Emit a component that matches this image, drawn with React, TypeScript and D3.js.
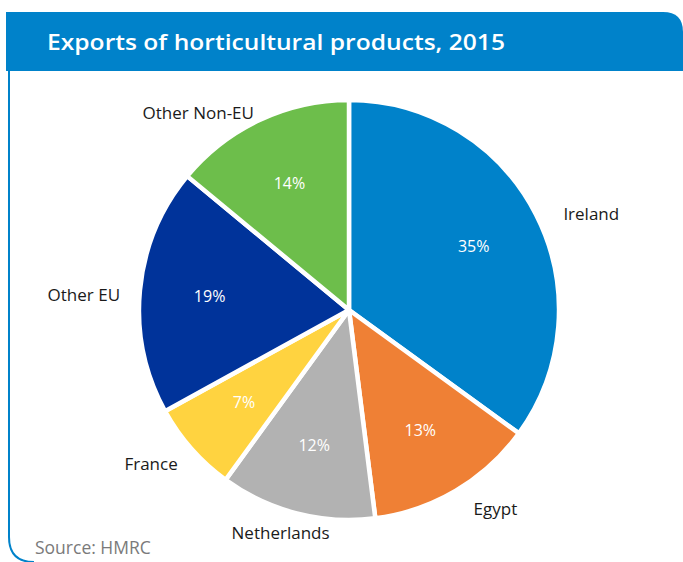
import React from "react";
import * as d3 from "d3";

const categories = ["Ireland", "Egypt", "Netherlands", "France", "Other EU", "Other Non-EU"];
const shares = [35, 13, 12, 7, 19, 14];
const colors = ["#0082CA", "#EF8035", "#B2B2B2", "#FFD340", "#00339A", "#6DBE4B"];
const title = "Exports of horticultural products, 2015";
const source = "Source: HMRC";

const W = 683;
const H = 562;

export default function App() {
  const cx = 349;
  const cy = 310;
  const r = 210;
  const pie = d3.pie<number>().sort(null).value((d) => d)(shares);
  const arc = d3.arc<d3.PieArcDatum<number>>().innerRadius(0).outerRadius(r);
  const pctArc = d3.arc<d3.PieArcDatum<number>>().innerRadius(140).outerRadius(140);
  const font = "'Open Sans', 'Noto Sans', sans-serif";

  return (
    <svg width={W} height={H} style={{ position: "absolute", left: 0, top: 0 }}>
      <rect x={0} y={0} width={W} height={H} fill="#fff" />
      <path d={`M9,70 L9,537 Q9,562 34,562`} fill="none" stroke="#0082CA" strokeWidth={2} />
      <path d={`M6,12 L663,12 Q683,12 683,32 L683,71 L6,71 Z`} fill="#0082CA" />
      <text
        x={47}
        y={50}
        fill="#fff"
        fontFamily={font}
        fontWeight={600}
        fontSize={22}
        textLength={458}
        lengthAdjust="spacingAndGlyphs"
      >
        {title}
      </text>
      <g transform={`translate(${cx},${cy})`}>
        {pie.map((p, i) => (
          <path key={i} d={arc(p) || ""} fill={colors[i]} stroke="#fff" strokeWidth={4.5} strokeLinejoin="round" />
        ))}
        {pie.map((p, i) => {
          const [x, y] = pctArc.centroid(p);
          return (
            <text key={"p" + i} x={x} y={y} dy="0.35em" textAnchor="middle" fill="#fff" fontFamily={font} fontSize={16}>
              {shares[i]}%
            </text>
          );
        })}
        {pie.map((p, i) => {
          const a = (p.startAngle + p.endAngle) / 2;
          const s = Math.sin(a);
          const anchor = s > 0.3 ? "start" : s < -0.3 ? "end" : "middle";
          const x = s * 235 + (anchor === "middle" ? -10 : 5);
          const y = -Math.cos(a) * 224;
          return (
            <text key={"l" + i} x={x} y={y + 6} dy="0.35em" textAnchor={anchor} fill="#1a1a1a" fontFamily={font} fontSize={17}>
              {categories[i]}
            </text>
          );
        })}
      </g>
      <text x={35} y={554} fill="#7a7a7a" fontFamily={font} fontSize={17.5}>
        {source}
      </text>
    </svg>
  );
}
